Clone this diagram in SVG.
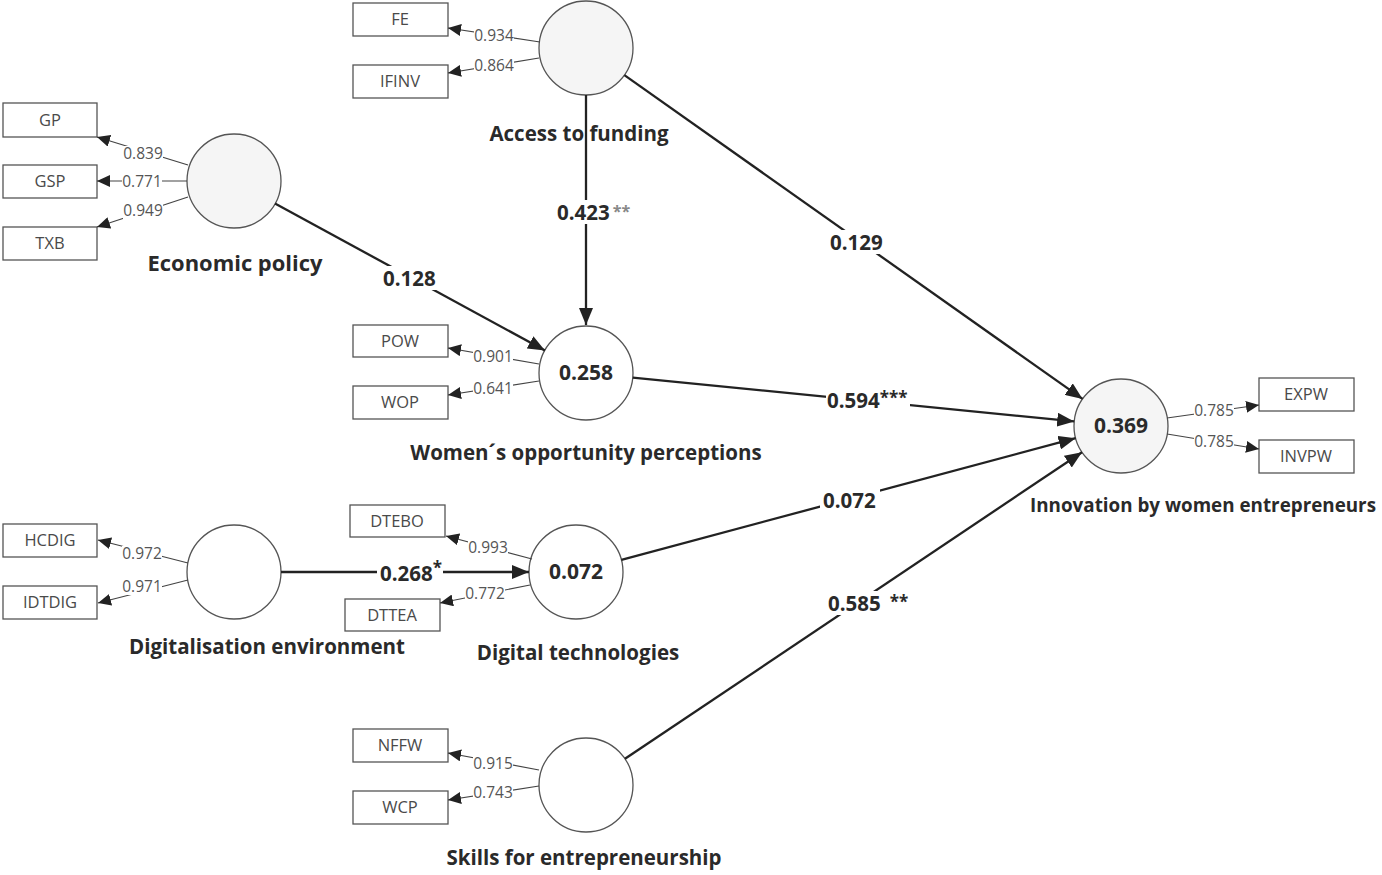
<svg xmlns="http://www.w3.org/2000/svg" width="1382" height="875" viewBox="0 0 1382 875">
<style>
.bg{fill:#ffffff}
.lv circle{stroke:#555;stroke-width:1.3}
.w{fill:#ffffff}
.g{fill:#f5f5f5}
.box rect{fill:#ffffff;stroke:#555;stroke-width:1.3}
.box text{font-family:"Open Sans","DejaVu Sans",sans-serif;font-size:16.5px;fill:#4a4a4a;text-anchor:middle}
.name{font-family:"Open Sans","DejaVu Sans",sans-serif;font-size:20.5px;font-weight:bold;fill:#2a2a2a;text-anchor:middle}
.r2{font-family:"Open Sans","DejaVu Sans",sans-serif;font-size:21px;font-weight:bold;fill:#2a2a2a;text-anchor:middle}
.ld{stroke:#444;stroke-width:1.2;fill:none}
.pth{stroke:#222;stroke-width:2.3;fill:none}
.bk{fill:#ffffff}
.ll{font-family:"Open Sans","DejaVu Sans",sans-serif;font-size:15.5px;fill:#555;text-anchor:middle}
.pl{font-family:"Open Sans","DejaVu Sans",sans-serif;font-size:20.5px;font-weight:bold;fill:#2a2a2a}
.st{font-size:17px}
.st2{font-size:16px;fill:#888}
</style>
<defs>
<marker id="a1" markerUnits="userSpaceOnUse" markerWidth="14" markerHeight="12" refX="13" refY="6" orient="auto">
<path d="M0,0 L13,6 L0,12 z" fill="#222"/>
</marker>
<marker id="a2" markerUnits="userSpaceOnUse" markerWidth="18" markerHeight="14" refX="17" refY="7" orient="auto">
<path d="M0,0 L17,7 L0,14 z" fill="#222"/>
</marker>
</defs>
<rect class="bg" width="1382" height="875"/>

<g id="access-to-funding" class="lv">
<circle class="g" cx="586" cy="48" r="47"/>
<text class="name" x="579" y="141">Access to funding</text>
</g>
<g id="economic-policy" class="lv">
<circle class="g" cx="234" cy="181" r="47"/>
<text class="name" x="235" y="271" textLength="175" lengthAdjust="spacingAndGlyphs">Economic policy</text>
</g>
<g id="womens-opportunity-perceptions" class="lv">
<circle class="w" cx="586" cy="373" r="47"/>
<text class="r2" x="586" y="380">0.258</text>
<text class="name" x="586" y="460">Women´s opportunity perceptions</text>
</g>
<g id="innovation-by-women-entrepreneurs" class="lv">
<circle class="g" cx="1121" cy="426" r="47"/>
<text class="r2" x="1121" y="433">0.369</text>
<text class="name" x="1203" y="512" style="font-size:19px" textLength="346" lengthAdjust="spacingAndGlyphs">Innovation by women entrepreneurs</text>
</g>
<g id="digitalisation-environment" class="lv">
<circle class="w" cx="234" cy="572" r="47"/>
<text class="name" x="267" y="654">Digitalisation environment</text>
</g>
<g id="digital-technologies" class="lv">
<circle class="w" cx="576" cy="572" r="47"/>
<text class="r2" x="576" y="579">0.072</text>
<text class="name" x="578" y="660">Digital technologies</text>
</g>
<g id="skills-for-entrepreneurship" class="lv">
<circle class="w" cx="586" cy="785" r="47"/>
<text class="name" x="584" y="865">Skills for entrepreneurship</text>
</g>

<g id="FE" class="box"><rect x="353" y="3" width="95" height="33"/><text x="400" y="25">FE</text></g>
<g id="IFINV" class="box"><rect x="353" y="65" width="95" height="33"/><text x="400" y="87">IFINV</text></g>
<g id="GP" class="box"><rect x="3" y="103" width="94" height="34"/><text x="50" y="126">GP</text></g>
<g id="GSP" class="box"><rect x="3" y="165" width="94" height="33"/><text x="50" y="187">GSP</text></g>
<g id="TXB" class="box"><rect x="3" y="227" width="94" height="33"/><text x="50" y="249">TXB</text></g>
<g id="POW" class="box"><rect x="353" y="325" width="95" height="32"/><text x="400" y="347">POW</text></g>
<g id="WOP" class="box"><rect x="353" y="386" width="95" height="33"/><text x="400" y="408">WOP</text></g>
<g id="HCDIG" class="box"><rect x="3" y="524" width="94" height="33"/><text x="50" y="546">HCDIG</text></g>
<g id="IDTDIG" class="box"><rect x="3" y="586" width="94" height="33"/><text x="50" y="608">IDTDIG</text></g>
<g id="DTEBO" class="box"><rect x="350" y="505" width="95" height="32"/><text x="397" y="527">DTEBO</text></g>
<g id="DTTEA" class="box"><rect x="345" y="599" width="95" height="32"/><text x="392" y="621">DTTEA</text></g>
<g id="EXPW" class="box"><rect x="1259" y="378" width="95" height="33"/><text x="1306" y="400">EXPW</text></g>
<g id="INVPW" class="box"><rect x="1259" y="440" width="95" height="33"/><text x="1306" y="462">INVPW</text></g>
<g id="NFFW" class="box"><rect x="353" y="729" width="95" height="33"/><text x="400" y="751">NFFW</text></g>
<g id="WCP" class="box"><rect x="353" y="791" width="95" height="33"/><text x="400" y="813">WCP</text></g>

<g id="connectors">
<line class="ld" x1="540" y1="42" x2="448" y2="28" marker-end="url(#a1)"/>
<line class="ld" x1="539" y1="58" x2="448" y2="73" marker-end="url(#a1)"/>
<line class="ld" x1="188" y1="165" x2="97" y2="137" marker-end="url(#a1)"/>
<line class="ld" x1="187" y1="181" x2="97" y2="181" marker-end="url(#a1)"/>
<line class="ld" x1="188" y1="197" x2="97" y2="227" marker-end="url(#a1)"/>
<line class="ld" x1="539" y1="364" x2="448" y2="348" marker-end="url(#a1)"/>
<line class="ld" x1="539" y1="381" x2="448" y2="395" marker-end="url(#a1)"/>
<line class="ld" x1="188" y1="563" x2="98" y2="540" marker-end="url(#a1)"/>
<line class="ld" x1="188" y1="580" x2="98" y2="603" marker-end="url(#a1)"/>
<line class="ld" x1="532" y1="559" x2="446" y2="536" marker-end="url(#a1)"/>
<line class="ld" x1="530" y1="585" x2="440" y2="603" marker-end="url(#a1)"/>
<line class="ld" x1="1167" y1="418" x2="1259" y2="405" marker-end="url(#a1)"/>
<line class="ld" x1="1167" y1="434" x2="1259" y2="449" marker-end="url(#a1)"/>
<line class="ld" x1="539" y1="770" x2="448" y2="753" marker-end="url(#a1)"/>
<line class="ld" x1="539" y1="786" x2="448" y2="800" marker-end="url(#a1)"/>

<rect class="bk" x="474" y="28" width="40" height="16"/>
<rect class="bk" x="474" y="58" width="40" height="16"/>
<rect class="bk" x="123" y="146" width="40" height="16"/>
<rect class="bk" x="122" y="174" width="40" height="16"/>
<rect class="bk" x="123" y="203" width="40" height="16"/>
<rect class="bk" x="473" y="349" width="40" height="16"/>
<rect class="bk" x="473" y="381" width="40" height="16"/>
<rect class="bk" x="122" y="546" width="40" height="16"/>
<rect class="bk" x="122" y="579" width="40" height="16"/>
<rect class="bk" x="468" y="540" width="40" height="16"/>
<rect class="bk" x="465" y="586" width="40" height="16"/>
<rect class="bk" x="1194" y="403" width="40" height="16"/>
<rect class="bk" x="1194" y="434" width="40" height="16"/>
<rect class="bk" x="473" y="756" width="40" height="16"/>
<rect class="bk" x="473" y="785" width="40" height="16"/>

<text class="ll" x="494" y="41">0.934</text>
<text class="ll" x="494" y="71">0.864</text>
<text class="ll" x="143" y="159">0.839</text>
<text class="ll" x="142" y="187">0.771</text>
<text class="ll" x="143" y="216">0.949</text>
<text class="ll" x="493" y="362">0.901</text>
<text class="ll" x="493" y="394">0.641</text>
<text class="ll" x="142" y="559">0.972</text>
<text class="ll" x="142" y="592">0.971</text>
<text class="ll" x="488" y="553">0.993</text>
<text class="ll" x="485" y="599">0.772</text>
<text class="ll" x="1214" y="416">0.785</text>
<text class="ll" x="1214" y="447">0.785</text>
<text class="ll" x="493" y="769">0.915</text>
<text class="ll" x="493" y="798">0.743</text>

<line class="pth" x1="586" y1="95" x2="586" y2="325" marker-end="url(#a2)"/>
<line class="pth" x1="624.4" y1="75.1" x2="1082.6" y2="398.9" marker-end="url(#a2)"/>
<line class="pth" x1="275" y1="203.5" x2="545" y2="350.5" marker-end="url(#a2)"/>
<line class="pth" x1="632.8" y1="377.6" x2="1074.2" y2="421.4" marker-end="url(#a2)"/>
<line class="pth" x1="621.4" y1="559.8" x2="1075.6" y2="438.2" marker-end="url(#a2)"/>
<line class="pth" x1="625" y1="758.8" x2="1082" y2="452.2" marker-end="url(#a2)"/>
<line class="pth" x1="281" y1="572" x2="529" y2="572" marker-end="url(#a2)"/>

<rect class="bk" x="554" y="200" width="84" height="24"/>
<rect class="bk" x="827" y="230" width="58" height="24"/>
<rect class="bk" x="380" y="266" width="60" height="24"/>
<rect class="bk" x="826" y="390" width="84" height="22"/>
<rect class="bk" x="820" y="488" width="60" height="24"/>
<rect class="bk" x="377" y="561" width="66" height="24"/>
<rect class="bk" x="825" y="591" width="86" height="24"/>

<text class="pl" x="557" y="220">0.423<tspan class="st2" dx="3" dy="-3">**</tspan></text>
<text class="pl" x="830" y="250">0.129</text>
<text class="pl" x="383" y="286">0.128</text>
<text class="pl" x="827" y="408">0.594<tspan class="st" dy="-4">***</tspan></text>
<text class="pl" x="823" y="508">0.072</text>
<text class="pl" x="380" y="581">0.268<tspan class="st" dy="-7">*</tspan></text>
<text class="pl" x="828" y="611">0.585<tspan class="st" dx="9" dy="-3">**</tspan></text>
</g>
</svg>
